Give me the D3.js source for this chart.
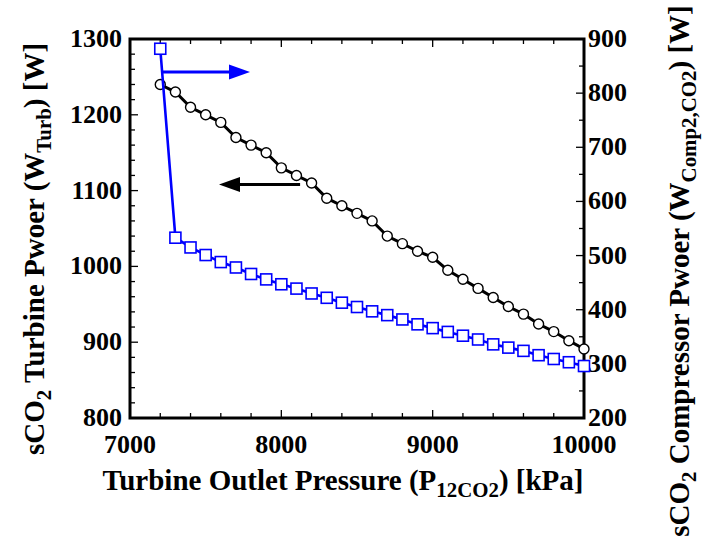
<!DOCTYPE html>
<html>
<head>
<meta charset="utf-8">
<script src="https://cdn.jsdelivr.net/npm/d3@7/dist/d3.min.js"></script>
<style>
  html, body { margin: 0; padding: 0; background: #fff; }
  svg text { font-family: "Liberation Serif", "Times New Roman", serif; font-weight: bold; fill: #000; }
</style>
</head>
<body>
<svg id="chart" width="702" height="539"></svg>
<script>
// Turbine outlet pressure [kPa]
const pressure = [7200, 7300, 7400, 7500, 7600, 7700, 7800, 7900, 8000, 8100,
                  8200, 8300, 8400, 8500, 8600, 8700, 8800, 8900, 9000, 9100,
                  9200, 9300, 9400, 9500, 9600, 9700, 9800, 9900, 10000];
// sCO2 turbine power [W] (left axis)
const turbinePower = [1240, 1230, 1210, 1200, 1190, 1170, 1160, 1150, 1130, 1120,
                      1110, 1090, 1080, 1070, 1060, 1040, 1030, 1020, 1012, 995,
                      983, 971, 959, 947, 937, 924, 914, 902, 891];
// sCO2 compressor power [W] (right axis)
const compressorPower = [882, 533, 515, 501, 488, 478, 466, 456, 447, 439,
                         430, 422, 413, 405, 397, 390, 382, 373, 366, 359,
                         352, 345, 336, 330, 324, 316, 309, 303, 296];

const xTicks = [7000, 8000, 9000, 10000];
const yLeftTicks = [800, 900, 1000, 1100, 1200, 1300];
const yRightTicks = [200, 300, 400, 500, 600, 700, 800, 900];

// Direction arrows: [x start, x end, value on its axis]
const arrowRight = [7211, 7793, 839];   // compressor curve -> right axis
const arrowLeft = [8124, 7588, 1108];   // turbine curve -> left axis

const svg = d3.select("#chart");
const L = 130, R = 584, T = 39, B = 418;

const x = d3.scaleLinear().domain([7000, 10000]).range([L, R]);
const yL = d3.scaleLinear().domain([800, 1300]).range([B, T]);
const yR = d3.scaleLinear().domain([200, 900]).range([B, T]);

const tickFont = 26, titleFont = 29;

// minor / major ticks, drawn inward on all four sides
const tk = svg.append("g").attr("stroke", "#000").attr("stroke-width", 1.3);
d3.range(7000, 10001, 200).forEach(v => {
  const len = v % 1000 === 0 ? 8 : 5;
  tk.append("line").attr("x1", x(v)).attr("x2", x(v)).attr("y1", B).attr("y2", B - len);
  tk.append("line").attr("x1", x(v)).attr("x2", x(v)).attr("y1", T).attr("y2", T + len);
});
d3.range(800, 1301, 20).forEach(v => {
  const len = v % 100 === 0 ? 8 : 5;
  tk.append("line").attr("x1", L).attr("x2", L + len).attr("y1", yL(v)).attr("y2", yL(v));
});
d3.range(200, 901, 50).forEach(v => {
  const len = v % 100 === 0 ? 8 : 5;
  tk.append("line").attr("x1", R).attr("x2", R - len).attr("y1", yR(v)).attr("y2", yR(v));
});

// frame
svg.append("rect").attr("x", L).attr("y", T).attr("width", R - L).attr("height", B - T)
  .attr("fill", "none").attr("stroke", "#000").attr("stroke-width", 3);

// tick labels
svg.append("g").selectAll("text").data(xTicks).join("text")
  .attr("x", d => x(d)).attr("y", 453).attr("text-anchor", "middle")
  .attr("font-size", tickFont).text(d => d);
svg.append("g").selectAll("text").data(yLeftTicks).join("text")
  .attr("x", L - 8).attr("y", d => yL(d) + 8).attr("text-anchor", "end")
  .attr("font-size", tickFont).text(d => d);
svg.append("g").selectAll("text").data(yRightTicks).join("text")
  .attr("x", R + 4).attr("y", d => yR(d) + 8).attr("text-anchor", "start")
  .attr("font-size", tickFont).text(d => d);

// axis titles with subscripts
function titled(g, parts) {
  const t = g.append("text").attr("font-size", titleFont).attr("text-anchor", "middle");
  let shift = 0;
  parts.forEach(p => {
    const s = t.append("tspan");
    const target = p.sub ? 7 : 0;
    if (target !== shift) s.attr("dy", target - shift);
    shift = target;
    if (p.sub) s.attr("font-size", titleFont * 0.72).text(p.sub);
    else s.text(p.t);
  });
  return t;
}
titled(svg.append("g").attr("transform", "translate(343,490)"),
  [{t: "Turbine Outlet Pressure (P"}, {sub: "12CO2"}, {t: ") [kPa]"}]);
titled(svg.append("g").attr("transform", "translate(44,249) rotate(-90)"),
  [{t: "sCO"}, {sub: "2"}, {t: " Turbine Pwoer (W"}, {sub: "Turb"}, {t: ") [W]"}]);
titled(svg.append("g").attr("transform", "translate(689,271) rotate(-90)"),
  [{t: "sCO"}, {sub: "2"}, {t: " Compressor Pwoer (W"}, {sub: "Comp2,CO2"}, {t: ") [W]"}]);

// turbine power: black line with open circles
const lineL = d3.line().x((d, i) => x(pressure[i])).y(d => yL(d));
svg.append("path").datum(turbinePower).attr("d", lineL)
  .attr("fill", "none").attr("stroke", "#000").attr("stroke-width", 3);
svg.append("g").selectAll("circle").data(turbinePower).join("circle")
  .attr("cx", (d, i) => x(pressure[i])).attr("cy", d => yL(d)).attr("r", 5)
  .attr("fill", "#fff").attr("stroke", "#000").attr("stroke-width", 1.4);

// compressor power: blue line with open squares
const blue = "#0000ff";
const lineR = d3.line().x((d, i) => x(pressure[i])).y(d => yR(d));
svg.append("path").datum(compressorPower).attr("d", lineR)
  .attr("fill", "none").attr("stroke", blue).attr("stroke-width", 2.6);
const sq = 11;
svg.append("g").selectAll("rect").data(compressorPower).join("rect")
  .attr("x", (d, i) => x(pressure[i]) - sq / 2).attr("y", d => yR(d) - sq / 2)
  .attr("width", sq).attr("height", sq)
  .attr("fill", "#fff").attr("stroke", blue).attr("stroke-width", 1.6);

// arrows
function arrow(x0, x1, y, color) {
  const dir = Math.sign(x1 - x0), head = 21, half = 7.5;
  svg.append("line").attr("x1", x0).attr("x2", x1 - dir * head).attr("y1", y).attr("y2", y)
    .attr("stroke", color).attr("stroke-width", 3);
  svg.append("path")
    .attr("d", `M${x1},${y} L${x1 - dir * head},${y - half} L${x1 - dir * head},${y + half} Z`)
    .attr("fill", color);
}
arrow(x(arrowRight[0]), x(arrowRight[1]), yR(arrowRight[2]), blue);
arrow(x(arrowLeft[0]), x(arrowLeft[1]), yL(arrowLeft[2]), "#000");
</script>
</body>
</html>
